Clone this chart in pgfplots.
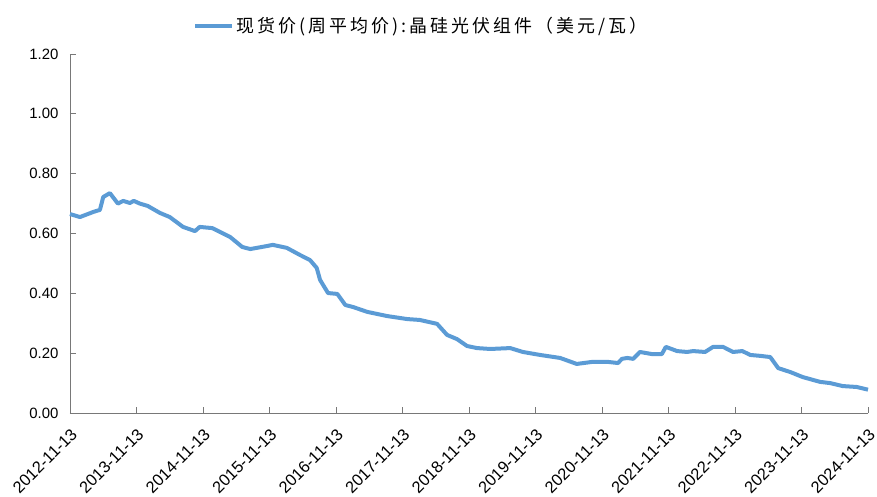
\documentclass[border=0pt]{standalone}
\usepackage{pgfplots}
\pgfplotsset{compat=1.18}
\usepackage{fontspec}
\setmainfont{Liberation Sans}
\newfontfamily\cjk[LetterSpace=17]{Noto Sans CJK SC}
\definecolor{lineblue}{RGB}{91,155,213}
\definecolor{axgray}{RGB}{120,120,120}
\begin{document}
\begin{tikzpicture}[x=1bp,y=1bp]
\begin{axis}[
  scale only axis,
  width=798bp, height=359bp,
  xmin=0, xmax=12, ymin=0, ymax=1.2,
  axis x line*=bottom, axis y line*=left,
  axis line style={axgray, line width=0.8pt},
  every tick/.style={axgray, line width=0.8pt},
  major tick length=6bp,
  xtick={0,...,12},
  xticklabels={2012-11-13,2013-11-13,2014-11-13,2015-11-13,2016-11-13,2017-11-13,2018-11-13,2019-11-13,2020-11-13,2021-11-13,2022-11-13,2023-11-13,2024-11-13},
  xticklabel style={rotate=45, anchor=east, font=\fontsize{16.5}{19}\selectfont, inner sep=1bp, yshift=-16bp, xshift=-9bp},
  ytick={0,0.2,...,1.2},
  /pgf/number format/fixed, /pgf/number format/fixed zerofill, /pgf/number format/precision=2,
  /pgf/number format/assume math mode=true,
  yticklabel style={font=\fontsize{15}{17}\selectfont, xshift=-8bp},
  legend style={draw=none, fill=none, at={(0.44,1.0)}, anchor=center, yshift=28bp, font=\cjk\fontsize{18}{20}\selectfont, legend cell align=left, inner sep=0pt},
  legend image code/.code={\draw[lineblue, line width=4bp] (0bp,0bp) -- (37bp,0bp);},
  clip=false,
]
\addplot[lineblue, line width=4bp, line join=round] coordinates {
(0.00,0.665) (0.15,0.655) (0.35,0.672) (0.45,0.679) (0.50,0.722) (0.60,0.735)
(0.72,0.700) (0.80,0.709) (0.90,0.702) (0.96,0.709) (1.05,0.700) (1.17,0.692)
(1.35,0.669) (1.50,0.655) (1.70,0.622) (1.88,0.608) (1.95,0.622) (2.14,0.618)
(2.41,0.588) (2.59,0.555) (2.71,0.548) (2.96,0.558) (3.05,0.562) (3.26,0.552)
(3.46,0.528) (3.61,0.511) (3.71,0.485) (3.76,0.445) (3.88,0.401) (4.02,0.398)
(4.14,0.361) (4.26,0.354) (4.47,0.338) (4.77,0.324) (5.07,0.314) (5.26,0.311)
(5.52,0.298) (5.67,0.261) (5.82,0.247) (5.97,0.224) (6.12,0.217) (6.32,0.214)
(6.62,0.217) (6.81,0.204) (7.07,0.194) (7.37,0.184) (7.62,0.164) (7.86,0.171)
(8.08,0.171) (8.24,0.167) (8.30,0.181) (8.38,0.184) (8.47,0.181) (8.57,0.204)
(8.75,0.197) (8.90,0.197) (8.96,0.221) (9.13,0.207) (9.28,0.204) (9.37,0.207)
(9.55,0.204) (9.67,0.221) (9.82,0.221) (9.97,0.204) (10.11,0.207) (10.23,0.194)
(10.38,0.191) (10.53,0.187) (10.65,0.150) (10.83,0.137) (11.02,0.120) (11.28,0.104)
(11.43,0.100) (11.62,0.090) (11.83,0.087) (12.00,0.078)
};
\addlegendentry{现货价(周平均价):晶硅光伏组件（美元/瓦）}
\end{axis}
\pgfresetboundingbox
\path[use as bounding box] (-70bp,-84bp) rectangle (807bp,413bp);
\end{tikzpicture}
\end{document}
